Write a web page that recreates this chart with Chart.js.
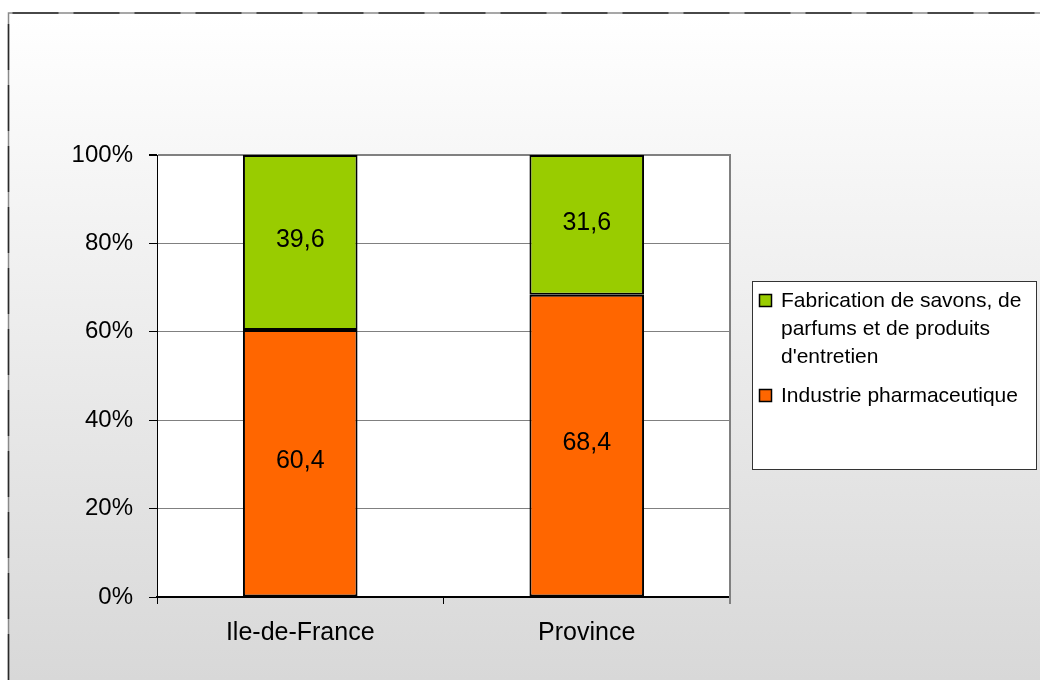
<!DOCTYPE html>
<html>
<head>
<meta charset="utf-8">
<script src="https://cdn.jsdelivr.net/npm/chart.js@4"></script>
<style>
  html, body { margin: 0; padding: 0; background: #fff; }
  #wrap { width: 1040px; height: 680px; position: relative; }
</style>
</head>
<body>
<div id="wrap"><canvas id="chart" width="1040" height="680"></canvas></div>
<script>
// Données
const regions = ['Ile-de-France', 'Province'];
const seriesNames = ['Industrie pharmaceutique', 'Fabrication de savons, de parfums et de produits d\'entretien'];
const pharmaValues = [60.4, 68.4];
const savonValues = [39.6, 31.6];
const yTicks = [0, 20, 40, 60, 80, 100];

const FONT = '"Liberation Sans", Arial, sans-serif';

// fond dégradé + cadre
const backgroundPlugin = {
    id: 'background',
    beforeDraw(chart) {
        const ctx = chart.ctx;
        ctx.save();
        ctx.fillStyle = '#ffffff';
        ctx.fillRect(0, 0, chart.width, chart.height);
        const grad = ctx.createLinearGradient(0, 13, 0, 680);
        grad.addColorStop(0, '#ffffff');
        grad.addColorStop(1, '#d8d8d8');
        ctx.fillStyle = grad;
        ctx.fillRect(8, 13, chart.width, chart.height);
        ctx.lineWidth = 1.5;
        ctx.strokeStyle = '#8a8a8a';
        ctx.beginPath();
        ctx.moveTo(8.5, chart.height);
        ctx.lineTo(8.5, 13);
        ctx.lineTo(chart.width, 13);
        ctx.stroke();
        ctx.setLineDash([46, 15]);
        ctx.strokeStyle = '#2a2a2a';
        ctx.stroke();
        ctx.setLineDash([]);
        // zone de tracé blanche
        const a = chart.chartArea;
        ctx.fillStyle = '#ffffff';
        ctx.fillRect(a.left, a.top, a.right - a.left, a.bottom - a.top);
        ctx.restore();
    },
    afterDraw(chart) {
        // bordure droite grise
        const a = chart.chartArea;
        const ctx = chart.ctx;
        ctx.save();
        ctx.strokeStyle = '#808080';
        ctx.lineWidth = 2;
        ctx.beginPath();
        ctx.moveTo(a.right, a.top - 1);
        ctx.lineTo(a.right, a.bottom + 7);
        ctx.stroke();
        ctx.restore();
    }
};

// valeurs au centre des segments
const valueLabels = {
    id: 'valueLabels',
    afterDatasetsDraw(chart) {
        const ctx = chart.ctx;
        ctx.save();
        ctx.font = '25px ' + FONT;
        ctx.fillStyle = '#000';
        ctx.textAlign = 'center';
        ctx.textBaseline = 'middle';
        chart.data.datasets.forEach((ds, i) => {
            chart.getDatasetMeta(i).data.forEach((el, j) => {
                const txt = String(ds.data[j]).replace('.', ',');
                ctx.fillText(txt, el.x, (el.y + el.base) / 2 - 2);
            });
        });
        ctx.restore();
    }
};

// légende à droite
const sideLegend = {
    id: 'sideLegend',
    afterDraw(chart) {
        const ctx = chart.ctx;
        const bx = 752, by = 281, bw = 284, bh = 188;
        ctx.save();
        ctx.fillStyle = '#ffffff';
        ctx.fillRect(bx, by, bw, bh);
        ctx.strokeStyle = '#333';
        ctx.lineWidth = 1;
        ctx.strokeRect(bx + 0.5, by + 0.5, bw, bh);
        ctx.font = '21px ' + FONT;
        ctx.textBaseline = 'alphabetic';
        const items = chart.data.datasets.slice().reverse();
        let y = 307;
        items.forEach(ds => {
            // découpage en lignes
            const words = ds.label.split(' ');
            const lines = [];
            let cur = '';
            words.forEach(w => {
                const test = cur ? cur + ' ' + w : w;
                if (ctx.measureText(test).width > 252 && cur) {
                    lines.push(cur);
                    cur = w;
                } else {
                    cur = test;
                }
            });
            lines.push(cur);
            ctx.fillStyle = ds.backgroundColor;
            ctx.fillRect(759, y - 13, 13, 13);
            ctx.strokeStyle = '#000';
            ctx.lineWidth = 1.5;
            ctx.strokeRect(759.5, y - 12.5, 12, 12);
            ctx.fillStyle = '#000';
            lines.forEach((ln, k) => {
                ctx.fillText(ln, 781, y + k * 28);
            });
            y += lines.length * 28 + 11;
        });
        ctx.restore();
    }
};

new Chart(document.getElementById('chart'), {
    type: 'bar',
    data: {
        labels: regions,
        datasets: [{
            label: seriesNames[0],
            data: pharmaValues,
            backgroundColor: '#ff6600',
            borderColor: '#000',
            borderWidth: 2,
            borderSkipped: false,
            barPercentage: 0.4,
            categoryPercentage: 1
        }, {
            label: seriesNames[1],
            data: savonValues,
            backgroundColor: '#99cc00',
            borderColor: '#000',
            borderWidth: 2,
            borderSkipped: false,
            barPercentage: 0.4,
            categoryPercentage: 1
        }]
    },
    options: {
        responsive: false,
        animation: false,
        layout: { padding: { top: 155, right: 310, left: 0, bottom: 0 } },
        plugins: {
            legend: { display: false },
            tooltip: { enabled: false }
        },
        scales: {
            x: {
                stacked: true,
                offset: true,
                afterFit: s => { s.height = 83; },
                grid: { drawOnChartArea: false, tickLength: 7, tickColor: '#000', offset: true },
                border: { color: '#000', width: 2 },
                ticks: { color: '#000', padding: 14, font: { family: FONT, size: 25 } }
            },
            y: {
                stacked: true,
                min: 0,
                max: 100,
                afterFit: s => { s.width = 157; },
                afterBuildTicks: s => { s.ticks = yTicks.map(v => ({ value: v })); },
                grid: {
                    color: '#808080',
                    lineWidth: c => (c.tick && c.tick.value === 100 ? 2 : 1),
                    tickLength: 8,
                    tickColor: '#000'
                },
                border: { color: '#000', width: 1 },
                ticks: {
                    color: '#000',
                    padding: 16,
                    font: { family: FONT, size: 24 },
                    callback: v => v + '%'
                }
            }
        }
    },
    plugins: [backgroundPlugin, valueLabels, sideLegend]
});
</script>
</body>
</html>
